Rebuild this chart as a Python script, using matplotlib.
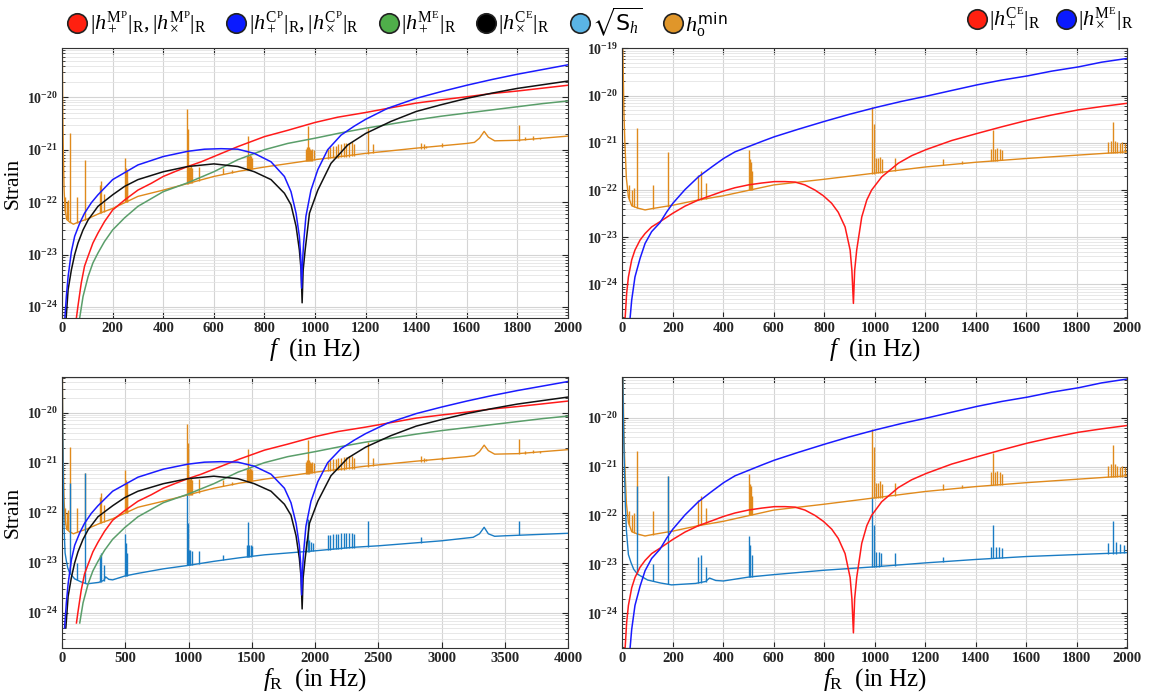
import numpy as np
import matplotlib.pyplot as plt
from matplotlib.lines import Line2D
from matplotlib.ticker import FixedLocator, FuncFormatter, LogLocator, NullFormatter

plt.rcParams['font.family'] = ['Liberation Serif', 'DejaVu Serif']
plt.rcParams['mathtext.fontset'] = 'custom'
plt.rcParams['mathtext.rm'] = 'Liberation Serif'
plt.rcParams['mathtext.it'] = 'Liberation Serif:italic'
plt.rcParams['mathtext.bf'] = 'Liberation Serif:bold'
plt.rcParams['mathtext.sf'] = 'DejaVu Sans'
plt.rcParams['mathtext.fallback'] = 'stix'

# ---- signal curves of the left panels (f in Hz, log10 of strain) ----
f_mp = [57, 63, 76, 89, 103, 122, 142, 168, 200, 247, 300, 353, 400, 445, 497, 550, 600,
        695, 800, 892, 1000, 1089, 1200, 1300, 1400, 1497, 1600, 1695, 1800, 1892, 2000]
mp = [-24.2, -23.98, -23.54, -23.22, -23.03, -22.78, -22.59, -22.37, -22.15, -21.96, -21.77,
      -21.64, -21.51, -21.42, -21.32, -21.23, -21.13, -20.94, -20.75, -20.63, -20.48, -20.38,
      -20.29, -20.20, -20.11, -20.05, -19.99, -19.93, -19.88, -19.83, -19.77]

f_cp = [10, 17, 24, 37, 50, 70, 89, 116, 142, 200, 300, 400, 497, 563, 629, 695, 760, 826,
        879, 905, 925, 938, 943, 947, 951, 955, 964, 984, 1011, 1050, 1103, 1155, 1200, 1287,
        1400, 1500, 1600, 1700, 1800, 1900, 2000]
cp = [-24.3, -23.80, -23.42, -22.94, -22.65, -22.40, -22.21, -22.01, -21.86, -21.57, -21.29,
      -21.13, -21.03, -20.99, -20.98, -20.99, -21.07, -21.23, -21.51, -21.80, -22.21, -22.65,
      -23.0, -23.64, -23.1, -22.78, -22.27, -21.77, -21.38, -21.00, -20.72, -20.55, -20.42,
      -20.21, -20.02, -19.89, -19.77, -19.66, -19.56, -19.47, -19.38]

f_me = [70, 83, 103, 122, 142, 168, 200, 247, 300, 400, 497, 600, 695, 800, 892, 1000, 1100,
        1200, 1300, 1400, 1500, 1600, 1700, 1800, 1900, 2000]
me = [-24.2, -23.80, -23.42, -23.16, -22.97, -22.75, -22.53, -22.30, -22.08, -21.80, -21.63,
      -21.42, -21.19, -21.00, -20.88, -20.78, -20.68, -20.59, -20.51, -20.43, -20.36, -20.30,
      -20.24, -20.18, -20.12, -20.07]

f_ce = [15, 24, 37, 50, 63, 83, 103, 142, 200, 247, 300, 400, 497, 600, 695, 760, 826, 879,
        905, 925, 938, 945, 949, 953, 961, 978, 1011, 1063, 1129, 1200, 1300, 1400, 1500, 1600,
        1700, 1800, 1900, 2000]
ce = [-24.3, -23.67, -23.29, -23.0, -22.78, -22.53, -22.34, -22.08, -21.86, -21.70, -21.57,
      -21.42, -21.32, -21.27, -21.32, -21.42, -21.57, -21.83, -22.05, -22.46, -22.91, -23.3,
      -23.92, -23.3, -22.91, -22.21, -21.77, -21.26, -20.91, -20.69, -20.46, -20.27, -20.14,
      -20.02, -19.92, -19.83, -19.76, -19.69]

# ---- signal curves of the right panels ----
f_ce_plus = [10.6, 17, 24, 37, 50, 70, 90, 116, 149, 200, 248, 301, 354, 401, 446, 499, 552,
             602, 644, 684, 723, 763, 796, 829, 855, 882, 902, 909, 915, 920, 928, 948, 968,
             987, 1027, 1093, 1146, 1204, 1304, 1405, 1502, 1605, 1700, 1806, 1898, 2000]
ce_plus = [-24.75, -24.19, -23.84, -23.48, -23.27, -23.06, -22.92, -22.78, -22.67, -22.49,
           -22.34, -22.21, -22.11, -22.02, -21.95, -21.89, -21.85, -21.82, -21.82, -21.83,
           -21.89, -22.00, -22.12, -22.28, -22.47, -22.78, -23.27, -23.70, -24.40, -23.70,
           -23.27, -22.57, -22.21, -22.00, -21.72, -21.43, -21.27, -21.14, -20.95, -20.80,
           -20.66, -20.52, -20.41, -20.30, -20.23, -20.16]

f_me_cross = [30, 37, 50, 70, 90, 116, 149, 176, 200, 248, 301, 354, 401, 446, 499, 552, 602,
              697, 803, 895, 1003, 1106, 1204, 1304, 1405, 1502, 1605, 1700, 1806, 1898, 2000]
me_cross = [-24.75, -24.33, -23.84, -23.45, -23.13, -22.88, -22.69, -22.46, -22.28, -21.99,
            -21.72, -21.51, -21.33, -21.19, -21.08, -20.97, -20.87, -20.71, -20.54, -20.40,
            -20.25, -20.12, -20.01, -19.89, -19.77, -19.67, -19.58, -19.48, -19.39, -19.29,
            -19.21]

# ---- h0_min (vs f_R) ----
fr_h = [0, 3, 6, 10, 16, 24, 37, 60, 90, 120, 200, 300, 400, 600, 800, 1000, 1200, 1400,
        1600, 1800, 2000, 2400, 2800, 3200, 3260, 3300, 3337, 3370, 3420, 3600, 3800, 4000]
h_min = [-18.5, -19.3, -20.3, -21.0, -21.75, -22.14, -22.33, -22.38, -22.42, -22.39, -22.32,
         -22.21, -22.12, -21.89, -21.77, -21.64, -21.51, -21.41, -21.33, -21.26, -21.19,
         -21.07, -20.97, -20.88, -20.86, -20.78, -20.65, -20.76, -20.83, -20.82, -20.78, -20.74]
sp_h_f = [25, 37, 45, 60, 120, 180, 298, 310, 330, 500, 505, 510, 515, 990, 995, 1005, 1012,
          1020, 1028, 1080, 1270, 1346, 1460, 1468, 1475, 1485, 1495, 1505, 1925, 1935, 1941,
          1950, 1960, 1970, 1980, 1990, 2100, 2121, 2142, 2163, 2184, 2205, 2226, 2247, 2268,
          2289, 2310, 2416, 2460, 2840, 2860, 2880, 3000, 3613, 3660, 3720, 3780]
sp_h_lo = [-22.2, -22.33, -22.35, -22.38, -22.39, -22.35, -22.21, -22.2, -22.18, -22.0, -22.0,
           -22.0, -22.0, -21.65, -21.65, -21.64, -21.64, -21.64, -21.64, -21.6, -21.47,
           -21.44, -21.38, -21.38, -21.38, -21.38, -21.37, -21.37, -21.22, -21.22, -21.22,
           -21.22, -21.21, -21.21, -21.21, -21.2, -21.17, -21.16, -21.16, -21.15, -21.15,
           -21.14, -21.14, -21.13, -21.13, -21.12, -21.12, -21.08, -21.07, -20.98, -20.98,
           -20.97, -20.95, -20.83, -20.82, -20.81, -20.8]
sp_h_hi = [-21.9, -22.0, -21.95, -20.69, -21.9, -21.2, -21.68, -21.6, -21.85, -21.15, -21.35,
           -21.4, -21.6, -20.23, -20.6, -21.33, -21.33, -21.3, -21.35, -21.33, -21.35, -21.38,
           -21.12, -20.73, -21.12, -21.1, -21.12, -21.15, -20.98, -20.95, -20.55, -20.95,
           -20.98, -21.0, -20.98, -21.0, -20.98, -20.95, -20.93, -20.92, -20.9, -20.9, -20.88,
           -20.88, -20.87, -20.86, -20.9, -20.59, -20.9, -20.87, -20.9, -20.93, -20.88, -20.53,
           -20.76, -20.74, -20.77]

# ---- sqrt(S_h) (vs f_R) ----
fr_s = [0, 4, 8, 12, 16, 24, 34, 45, 60, 100, 150, 195, 290, 330, 345, 370, 400, 500, 600,
        800, 1000, 1200, 1400, 1600, 1800, 2000, 2300, 2500, 3000, 3250, 3300, 3337, 3370,
        3420, 3500, 4000]
sqrt_sh = [-18.5, -20.0, -21.0, -21.8, -22.3, -22.8, -22.96, -23.1, -23.2, -23.32, -23.38,
           -23.42, -23.39, -23.35, -23.28, -23.33, -23.34, -23.26, -23.21, -23.12, -23.05,
           -22.97, -22.90, -22.84, -22.80, -22.76, -22.69, -22.66, -22.56, -22.49, -22.42,
           -22.29, -22.42, -22.47, -22.46, -22.41]
sp_s_f = [60, 120, 180, 298, 310, 330, 500, 505, 512, 990, 995, 1005, 1015, 1025, 1080, 1270,
          1460, 1468, 1478, 1490, 1505, 1925, 1941, 1955, 1970, 1985, 2100, 2121, 2142, 2163,
          2184, 2205, 2226, 2247, 2268, 2289, 2310, 2416, 2840, 3613]
sp_s_lo = [-23.2, -23.35, -23.4, -23.39, -23.38, -23.36, -23.26, -23.26, -23.26, -23.05,
           -23.05, -23.05, -23.05, -23.04, -23.03, -22.95, -22.88, -22.88, -22.88, -22.88,
           -22.87, -22.78, -22.78, -22.78, -22.77, -22.77, -22.74, -22.74, -22.73, -22.73,
           -22.72, -22.72, -22.71, -22.71, -22.7, -22.7, -22.7, -22.68, -22.6, -22.45]
sp_s_hi = [-21.4, -23.0, -21.2, -22.84, -22.81, -23.05, -22.43, -22.6, -22.8, -21.64, -22.2,
           -22.74, -22.74, -22.76, -22.77, -22.85, -22.64, -22.19, -22.64, -22.65, -22.66,
           -22.57, -22.12, -22.55, -22.58, -22.6, -22.45, -22.44, -22.43, -22.42, -22.42,
           -22.41, -22.41, -22.41, -22.4, -22.4, -22.42, -22.16, -22.48, -22.16]

C_RED = '#ff1a1a'
C_BLUE = '#1a1aff'
C_GREEN = '#5a9e6a'
C_BLACK = '#111111'
C_ORANGE = '#e08a1c'
C_SKY = '#1a7cc4'

def p(v):
    return 10.0 ** np.array(v)

def noise(ax, fr, vals, sf, lo, hi, color, xs=1.0):
    ax.plot(np.array(fr) * xs, p(vals), color=color, lw=1.0)
    ax.vlines(np.array(sf) * xs, p(lo), p(hi), color=color, lw=1.0)

def style(ax, xmax, xstep, ylo, yhi, xlabel, ylabel=True):
    ax.set_yscale('log')
    ax.set_xlim(0, xmax)
    ax.set_ylim(10 ** ylo, 10 ** yhi)
    ax.xaxis.set_major_locator(FixedLocator(np.arange(0, xmax + 1, xstep)))
    decades = [10.0 ** k for k in range(-24, -18) if ylo <= k <= yhi]
    ax.yaxis.set_major_locator(FixedLocator(decades))
    ax.yaxis.set_minor_locator(LogLocator(base=10, subs=np.arange(2, 10), numticks=20))
    ax.yaxis.set_minor_formatter(NullFormatter())
    ax.yaxis.set_major_formatter(FuncFormatter(
        lambda v, pos: r'$\mathbf{10^{%d}}$' % round(np.log10(v))))
    ax.tick_params(which='both', direction='in', top=True, right=True, colors='#262626')
    ax.tick_params(which='major', length=4, labelsize=10.5, pad=3)
    ax.tick_params(axis='y', which='major', labelsize=10)
    ax.tick_params(which='minor', length=2)
    for lab in ax.get_xticklabels():
        lab.set_fontweight('bold')
    ax.grid(True, which='major', color='#d4d4d4', lw=0.8)
    ax.grid(True, which='minor', axis='y', color='#e4e4e4', lw=0.6)
    ax.set_axisbelow(True)
    for s in ax.spines.values():
        s.set_color('#333333')
    ax.set_xlabel(xlabel, fontsize=18, labelpad=1)
    if ylabel:
        ax.set_ylabel('Strain', fontsize=15.5, labelpad=3)

fig = plt.figure(figsize=(11.51, 7.0), dpi=100)
ax1 = fig.add_axes([0.0539, 0.5457, 0.4396, 0.3857])
ax2 = fig.add_axes([0.5407, 0.5457, 0.4388, 0.3857])
ax3 = fig.add_axes([0.0539, 0.0743, 0.4396, 0.3871])
ax4 = fig.add_axes([0.5407, 0.0743, 0.4388, 0.3871])

# top left: vs f (h0_min plotted at f = f_R / 2)
noise(ax1, fr_h, h_min, sp_h_f, sp_h_lo, sp_h_hi, C_ORANGE, xs=0.5)
ax1.plot(f_me, p(me), color=C_GREEN, lw=1.1)
ax1.plot(f_mp, p(mp), color=C_RED, lw=1.1)
ax1.plot(f_ce, p(ce), color=C_BLACK, lw=1.1)
ax1.plot(f_cp, p(cp), color=C_BLUE, lw=1.1)
style(ax1, 2000, 200, -24.21, -19.06, r'$f$  (in Hz)')

# top right
noise(ax2, fr_h, h_min, sp_h_f, sp_h_lo, sp_h_hi, C_ORANGE)
ax2.plot(f_ce_plus, p(ce_plus), color=C_RED, lw=1.1)
ax2.plot(f_me_cross, p(me_cross), color=C_BLUE, lw=1.1)
style(ax2, 2000, 200, -24.71, -18.99, r'$f$  (in Hz)', ylabel=False)

# bottom left: vs f_R = 2 f
noise(ax3, fr_h, h_min, sp_h_f, sp_h_lo, sp_h_hi, C_ORANGE)
noise(ax3, fr_s, sqrt_sh, sp_s_f, sp_s_lo, sp_s_hi, C_SKY)
ax3.plot(2 * np.array(f_me), p(me), color=C_GREEN, lw=1.1)
ax3.plot(2 * np.array(f_mp), p(mp), color=C_RED, lw=1.1)
ax3.plot(2 * np.array(f_ce), p(ce), color=C_BLACK, lw=1.1)
ax3.plot(2 * np.array(f_cp), p(cp), color=C_BLUE, lw=1.1)
style(ax3, 4000, 500, -24.70, -19.29, r'$f_{\mathrm{R}}$  (in Hz)')

# bottom right
noise(ax4, fr_h, h_min, sp_h_f, sp_h_lo, sp_h_hi, C_ORANGE)
noise(ax4, fr_s, sqrt_sh, sp_s_f, sp_s_lo, sp_s_hi, C_SKY)
ax4.plot(f_ce_plus, p(ce_plus), color=C_RED, lw=1.1)
ax4.plot(f_me_cross, p(me_cross), color=C_BLUE, lw=1.1)
style(ax4, 2000, 200, -24.71, -19.17, r'$f_{\mathrm{R}}$  (in Hz)', ylabel=False)

def dot(c):
    return Line2D([], [], ls='', marker='o', markersize=14, mfc=c, mec='#222222', mew=1.2)

labels1 = [r'$|h_+^{\mathrm{M^P}}|_{\mathrm{R}},|h_\times^{\mathrm{M^P}}|_{\mathrm{R}}$',
           r'$|h_+^{\mathrm{C^P}}|_{\mathrm{R}},|h_\times^{\mathrm{C^P}}|_{\mathrm{R}}$',
           r'$|h_+^{\mathrm{M^E}}|_{\mathrm{R}}$',
           r'$|h_\times^{\mathrm{C^E}}|_{\mathrm{R}}$',
           r'$\sqrt{\mathsf{S}_h}$',
           r'$h_{\mathrm{o}}^{\mathsf{min}}$']
handles1 = [dot('#ff2010'), dot('#0a1aff'), dot('#4fae4a'), dot('#000000'),
            dot('#5ab4e5'), dot('#e0962a')]
fig.legend(handles1, labels1, loc='upper left', bbox_to_anchor=(0.044, 1.014), ncol=6,
           frameon=False, fontsize=16, handletextpad=0.05, columnspacing=0.85,
           handlelength=1.0, borderpad=0.2)

labels2 = [r'$|h_+^{\mathrm{C^E}}|_{\mathrm{R}}$', r'$|h^{\mathrm{M^E}}_\times|_{\mathrm{R}}$']
fig.legend([dot('#ff2010'), dot('#0a1aff')], labels2, loc='upper right',
           bbox_to_anchor=(0.998, 1.014), ncol=2, frameon=False, fontsize=16,
           handletextpad=0.05, columnspacing=0.6, handlelength=1.0, borderpad=0.2)

fig.savefig('out.png', dpi=100)
